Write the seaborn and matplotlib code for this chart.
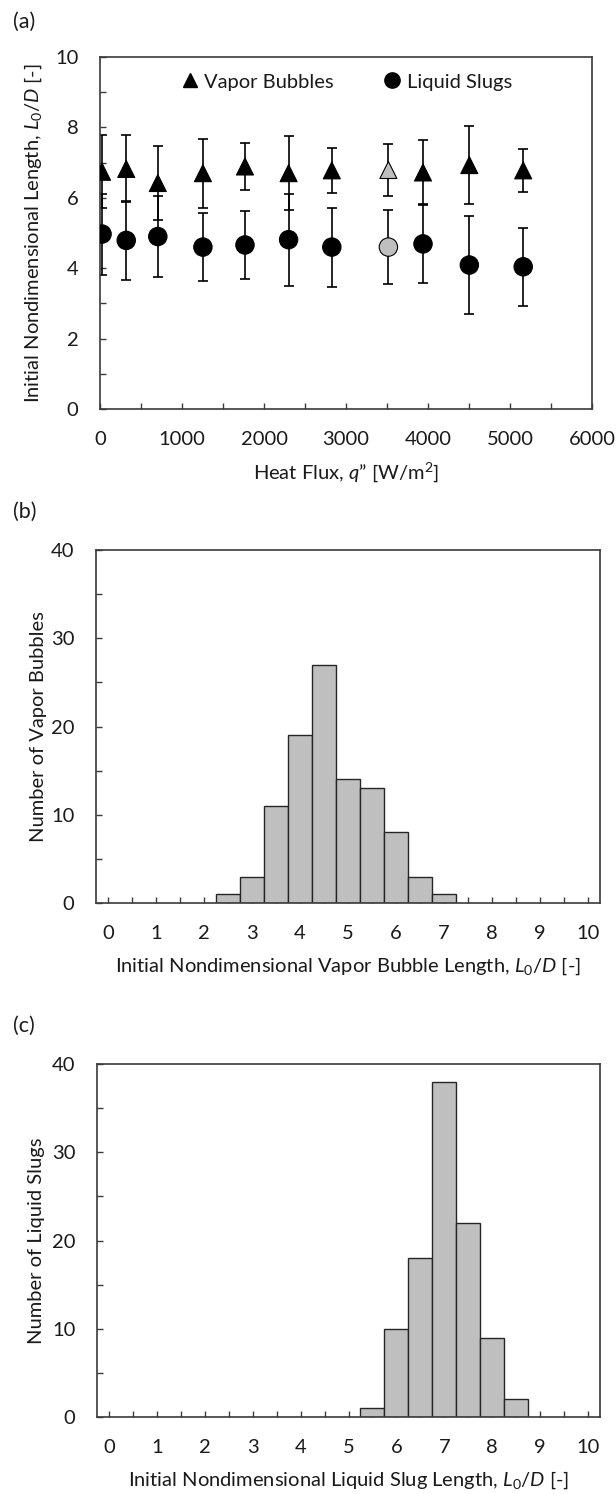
import numpy as np
import pandas as pd
import matplotlib
matplotlib.use('Agg')
import matplotlib.pyplot as plt
from matplotlib.ticker import MultipleLocator
from matplotlib.lines import Line2D
import seaborn as sns

# Panel (a): initial length vs heat flux
heat_flux = [25, 320, 705, 1255, 1768, 2300, 2827, 3517, 3939, 4504, 5161]
vapor_mean = [6.74, 6.82, 6.42, 6.70, 6.89, 6.70, 6.78, 6.79, 6.72, 6.93, 6.78]
vapor_err = [1.04, 0.95, 1.05, 0.98, 0.68, 1.06, 0.63, 0.75, 0.91, 1.10, 0.61]
slug_mean = [4.97, 4.79, 4.90, 4.60, 4.66, 4.81, 4.60, 4.60, 4.69, 4.09, 4.04]
slug_err = [1.15, 1.12, 1.15, 0.97, 0.97, 1.31, 1.12, 1.06, 1.10, 1.40, 1.10]
highlight = [False] * 7 + [True] + [False] * 3   # grey point at 3517 W/m2

# Panel (b) and (c): histogram bins (centres) and counts
bubble_bins = [2.5, 3.0, 3.5, 4.0, 4.5, 5.0, 5.5, 6.0, 6.5, 7.0]
bubble_counts = [1, 3, 11, 19, 27, 14, 13, 8, 3, 1]
slug_bins = [5.5, 6.0, 6.5, 7.0, 7.5, 8.0, 8.5]
slug_counts = [1, 10, 18, 38, 22, 9, 2]

sns.set_theme(style='ticks')
plt.rcParams['font.family'] = ['Lato', 'DejaVu Sans']
plt.rcParams['mathtext.fontset'] = 'custom'
plt.rcParams['mathtext.rm'] = 'Lato'
plt.rcParams['mathtext.it'] = 'Lato:italic'
FS = 14.5
plt.rcParams['font.size'] = FS

TXT = '#1a1a1a'
SPINE = '#3a3a3a'
GREY = '#bfbfbf'

W, H = 616, 1494
fig = plt.figure(figsize=(W / 100, H / 100), dpi=100)


def box(l, r, t, b):
    return [l / W, 1 - b / H, (r - l) / W, (b - t) / H]


def style_axes(ax):
    for s in ax.spines.values():
        s.set_color(SPINE)
        s.set_linewidth(1.2)
    ax.tick_params(which='both', direction='in', length=4, width=1,
                   color=SPINE, labelsize=FS, labelcolor=TXT, pad=15.5)
    ax.tick_params(top=False, right=False, which='both')


# ---- (a)
ax1 = fig.add_axes(box(100, 592, 57, 409))
df = pd.DataFrame({'q': heat_flux, 'vap': vapor_mean, 'vap_e': vapor_err,
                   'slug': slug_mean, 'slug_e': slug_err, 'hl': highlight})

ax1.errorbar(df['q'], df['vap'], yerr=df['vap_e'], fmt='none', ecolor='black',
             elinewidth=1.2, capsize=3.6, capthick=1.2, zorder=2)
ax1.errorbar(df['q'], df['slug'], yerr=df['slug_e'], fmt='none', ecolor='black',
             elinewidth=1.2, capsize=3.6, capthick=1.2, zorder=2)

colors = df['hl'].map({True: GREY, False: 'black'}).tolist()
sns.scatterplot(data=df, x='q', y='vap', marker='^', s=150, c=colors,
                edgecolor='black', linewidth=0.8, ax=ax1, zorder=3, legend=False)
sns.scatterplot(data=df, x='q', y='slug', marker='o', s=175, c=colors,
                edgecolor='black', linewidth=0.8, ax=ax1, zorder=3, legend=False)

ax1.set_xlim(0, 6000)
ax1.set_ylim(0, 10)
ax1.xaxis.set_major_locator(MultipleLocator(1000))
ax1.xaxis.set_minor_locator(MultipleLocator(500))
ax1.yaxis.set_major_locator(MultipleLocator(2))
ax1.yaxis.set_minor_locator(MultipleLocator(1))
style_axes(ax1)
ax1.set_xlabel('Heat Flux, $q$” [W/m$^2$]', fontsize=FS, color=TXT)
ax1.set_ylabel('Initial Nondimensional Length, $L_0/D$ [-]', fontsize=FS, color=TXT)
ax1.xaxis.set_label_coords(0.5, -0.145)
ax1.yaxis.set_label_coords(-0.114, 0.5)

handles = [Line2D([], [], marker='^', color='black', ls='none', markersize=10),
           Line2D([], [], marker='o', color='black', ls='none', markersize=11)]
ax1.legend(handles, ['Vapor Bubbles', 'Liquid Slugs'], loc='center',
           bbox_to_anchor=(0.5, 0.929), ncol=2, frameon=False, fontsize=FS,
           handletextpad=0.2, columnspacing=2.4, handlelength=1.0,
           labelcolor=TXT)
fig.text(13 / W, 1 - 22 / H, '(a)', fontsize=15.5, color=TXT, va='center')


# ---- (b) and (c)
def hist_panel(rect, centres, counts, xlabel, ylabel, tag, tag_y, ylab_x):
    ax = fig.add_axes(rect)
    c = np.asarray(centres, dtype=float)
    edges = np.append(c - 0.25, c[-1] + 0.25).tolist()
    hdf = pd.DataFrame({'L': c, 'n': counts})
    sns.histplot(data=hdf, x='L', weights='n', bins=edges, ax=ax, color=GREY,
                 edgecolor='#262626', linewidth=1.0, alpha=1.0)
    ax.set_xlim(-0.25, 10.25)
    ax.set_ylim(0, 40)
    ax.xaxis.set_major_locator(MultipleLocator(1))
    ax.xaxis.set_minor_locator(MultipleLocator(0.5))
    ax.yaxis.set_major_locator(MultipleLocator(10))
    ax.yaxis.set_minor_locator(MultipleLocator(5))
    style_axes(ax)
    ax.set_xlabel(xlabel, fontsize=FS, color=TXT)
    ax.set_ylabel(ylabel, fontsize=FS, color=TXT)
    ax.xaxis.set_label_coords(0.5, -0.148)
    ax.yaxis.set_label_coords(ylab_x, 0.5)
    fig.text(13 / W, 1 - tag_y / H, tag, fontsize=15.5, color=TXT, va='center')
    return ax


hist_panel(box(96, 600, 550, 903), bubble_bins, bubble_counts,
           'Initial Nondimensional Vapor Bubble Length, $L_0/D$ [-]',
           'Number of Vapor Bubbles', '(b)', 512, -0.097)
hist_panel(box(97, 600, 1064, 1417), slug_bins, slug_counts,
           'Initial Nondimensional Liquid Slug Length, $L_0/D$ [-]',
           'Number of Liquid Slugs', '(c)', 1026, -0.103)

fig.savefig('out.png', dpi=100, facecolor='white')
